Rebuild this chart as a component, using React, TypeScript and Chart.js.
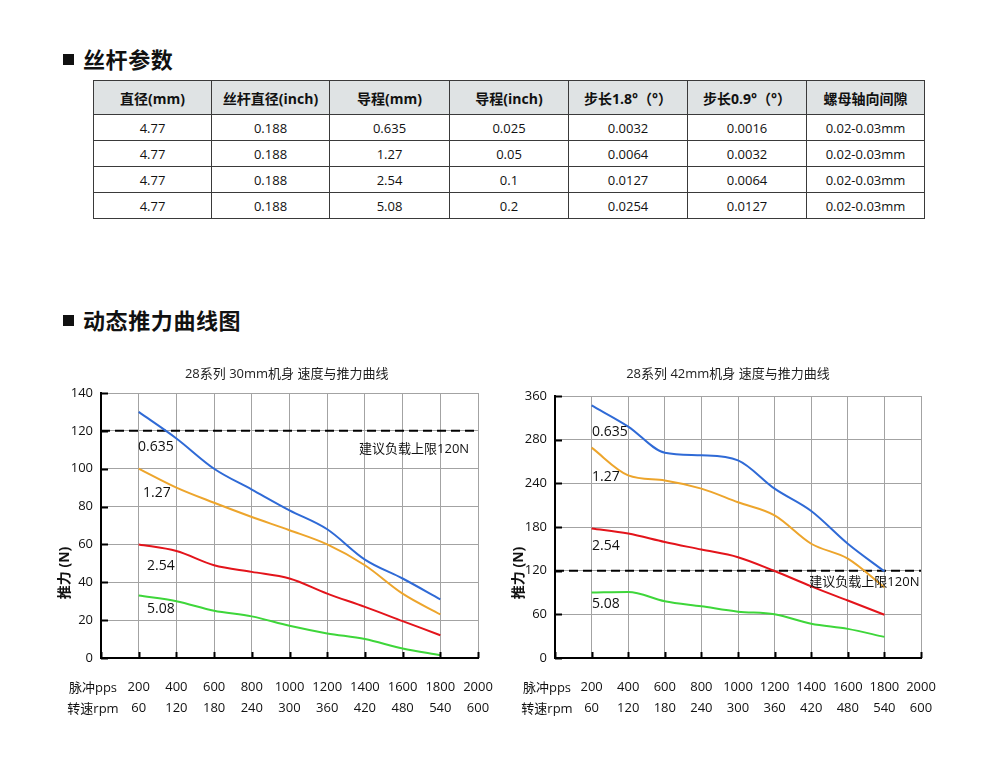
import React, { useEffect, useRef } from 'react';
import { Chart, registerables } from 'chart.js';
Chart.register(...registerables);

const FONT = '"Open Sans", "Noto Sans CJK SC", sans-serif';

// ---------- table data ----------
const tableHeaders = ['直径(mm)', '丝杆直径(inch)', '导程(mm)', '导程(inch)', '步长1.8°（°）', '步长0.9°（°）', '螺母轴向间隙'];
const diameterMm = ['4.77', '4.77', '4.77', '4.77'];
const diameterInch = ['0.188', '0.188', '0.188', '0.188'];
const leadMm = ['0.635', '1.27', '2.54', '5.08'];
const leadInch = ['0.025', '0.05', '0.1', '0.2'];
const step18 = ['0.0032', '0.0064', '0.0127', '0.0254'];
const step09 = ['0.0016', '0.0032', '0.0064', '0.0127'];
const backlash = ['0.02-0.03mm', '0.02-0.03mm', '0.02-0.03mm', '0.02-0.03mm'];

// ---------- chart data ----------
const ppsValues = [200, 400, 600, 800, 1000, 1200, 1400, 1600, 1800];
const ppsTickLabels = ['200', '400', '600', '800', '1000', '1200', '1400', '1600', '1800', '2000'];
const rpmTickLabels = ['60', '120', '180', '240', '300', '360', '420', '480', '540', '600'];
const seriesNames = ['0.635', '1.27', '2.54', '5.08'];
const seriesColors = ['#2f6ad6', '#eda52c', '#e3141b', '#3ed63a'];

const left0635 = [130, 116, 100, 89, 78, 68, 52, 42, 31];
const left127 = [100, 90, 82, 74.5, 67.5, 60, 49, 34, 23];
const left254 = [60, 56.5, 49, 45.5, 42, 34, 27, 19.5, 12];
const left508 = [33, 30, 25, 22, 17, 13, 10, 5, 1.5];

const right0635 = [347, 318, 282, 278.5, 271.6, 232.7, 202, 157, 119];
const right127 = [289, 251, 244, 232.7, 214, 196, 157, 136.5, 97];
const right254 = [178, 171, 159.4, 149, 138.5, 119.5, 98.5, 79, 59.5];
const right508 = [90, 90.7, 78, 71, 63.7, 60, 47, 40, 29];

const leftYTickLabels = ['0', '20', '40', '60', '80', '100', '120', '140'];
const rightYTickLabels = ['0', '60', '120', '180', '240', '280', '360'];

const loadLimit = 120;

type ChartCfg = {
  title: string;
  titleX: number;
  yMax: number;
  yStep: number;
  yTickLabels: string[];
  series: number[][];
  labelAnchors: { text: string; x: number; y: number; size: number }[];
  padding: { left: number; right: number; top: number; bottom: number };
  yWidth: number;
  xHeight: number;
  canvas: { left: number; top: number; width: number; height: number };
};

const leftCfg: ChartCfg = {
  title: '28系列 30mm机身 速度与推力曲线',
  titleX: 985,
  yMax: 140,
  yStep: 20,
  yTickLabels: leftYTickLabels,
  series: [left0635, left127, left254, left508],
  labelAnchors: [
    { text: '0.635', x: 196, y: 111.5, size: 14 },
    { text: '1.27', x: 223, y: 87, size: 14 },
    { text: '2.54', x: 244, y: 48.7, size: 14 },
    { text: '5.08', x: 244, y: 25.7, size: 14 },
    { text: '建议负载上限120N', x: 1369, y: 110.3, size: 13 },
  ],
  padding: { left: 0, right: 34, top: 38, bottom: 0 },
  yWidth: 61,
  xHeight: 67,
  canvas: { left: 40, top: 355, width: 472, height: 370 },
};

const rightCfg: ChartCfg = {
  title: '28系列 42mm机身 速度与推力曲线',
  titleX: 945,
  yMax: 360,
  yStep: 60,
  yTickLabels: rightYTickLabels,
  series: [right0635, right127, right254, right508],
  labelAnchors: [
    { text: '0.635', x: 202, y: 310.5, size: 14 },
    { text: '1.27', x: 202, y: 248, size: 14 },
    { text: '2.54', x: 202, y: 153.5, size: 14 },
    { text: '5.08', x: 202, y: 74, size: 14 },
    { text: '建议负载上限120N', x: 1390, y: 104.4, size: 13 },
  ],
  padding: { left: 0, right: 34, top: 41, bottom: 0 },
  yWidth: 60,
  xHeight: 67,
  canvas: { left: 495, top: 355, width: 460, height: 370 },
};

const overlayPlugin = {
  id: 'overlay',
  afterDraw(chart: any, _args: any, opts: any) {
    const { ctx, chartArea } = chart;
    const xs = chart.scales.x;
    const ys = chart.scales.y;
    ctx.save();
    // inner tick marks
    ctx.strokeStyle = '#000';
    ctx.lineWidth = 2;
    xs.ticks.forEach((t: any) => {
      const px = Math.round(xs.getPixelForValue(t.value)) + 0.5;
      ctx.beginPath();
      ctx.moveTo(px, chartArea.bottom);
      ctx.lineTo(px, chartArea.bottom - 6);
      ctx.stroke();
    });
    ys.ticks.forEach((t: any) => {
      const py = Math.round(ys.getPixelForValue(t.value)) + 0.5;
      ctx.beginPath();
      ctx.moveTo(chartArea.left, py);
      ctx.lineTo(chartArea.left + 7, py);
      ctx.stroke();
    });
    // title
    ctx.fillStyle = '#222';
    ctx.font = `13px ${FONT}`;
    ctx.textAlign = 'center';
    ctx.textBaseline = 'middle';
    ctx.fillText(opts.title, xs.getPixelForValue(opts.titleX), 19);
    // series labels
    ctx.fillStyle = '#111';
    ctx.textAlign = 'left';
    opts.labelAnchors.forEach((a: any) => {
      ctx.font = `${a.size}px ${FONT}`;
      ctx.fillText(a.text, xs.getPixelForValue(a.x), ys.getPixelForValue(a.y));
    });
    // x row headers
    ctx.font = `13px ${FONT}`;
    ctx.textAlign = 'center';
    ctx.fillText('脉冲pps', chartArea.left - 8, chartArea.bottom + 30);
    ctx.fillText('转速rpm', chartArea.left - 8, chartArea.bottom + 51);
    // y title
    ctx.translate(chartArea.left - 36, chartArea.bottom - 85);
    ctx.rotate(-Math.PI / 2);
    ctx.font = `bold 14px ${FONT}`;
    ctx.fillText('推力 (N)', 0, 0);
    ctx.restore();
  },
};

function ForceChart({ cfg }: { cfg: ChartCfg }) {
  const ref = useRef<HTMLCanvasElement>(null);
  useEffect(() => {
    if (!ref.current) return;
    const datasets: any[] = cfg.series.map((vals, i) => ({
      label: seriesNames[i],
      data: ppsValues.map((p, j) => ({ x: p, y: vals[j] })),
      borderColor: seriesColors[i],
      borderWidth: 2,
      pointRadius: 0,
      cubicInterpolationMode: 'monotone',
      fill: false,
    }));
    datasets.unshift({
      label: 'limit',
      data: [
        { x: 0, y: loadLimit },
        { x: 2000, y: loadLimit },
      ],
      borderColor: '#000',
      borderWidth: 2,
      borderDash: [9, 5],
      pointRadius: 0,
      fill: false,
      order: 10,
    });
    const chart = new Chart(ref.current, {
      type: 'line',
      data: { datasets },
      options: {
        animation: false,
        responsive: false,
        maintainAspectRatio: false,
        layout: { padding: cfg.padding },
        plugins: {
          legend: { display: false },
          tooltip: { enabled: false },
          title: { display: false },
          overlay: { title: cfg.title, titleX: cfg.titleX, labelAnchors: cfg.labelAnchors },
        } as any,
        scales: {
          x: {
            type: 'linear',
            min: 0,
            max: 2000,
            afterFit: (s: any) => {
              s.height = cfg.xHeight;
            },
            ticks: {
              stepSize: 200,
              autoSkip: false,
              maxRotation: 0,
              padding: 19,
              color: '#111',
              font: { family: FONT, size: 13, lineHeight: 1.6 },
              callback: (v: any) => {
                const i = Math.round(v / 200) - 1;
                if (i < 0) return '';
                return [ppsTickLabels[i], rpmTickLabels[i]];
              },
            },
            grid: { color: '#a3a3a3', lineWidth: 1, drawTicks: false },
            border: { color: '#000', width: 2 },
          },
          y: {
            type: 'linear',
            min: 0,
            max: cfg.yMax,
            afterFit: (s: any) => {
              s.width = cfg.yWidth;
            },
            ticks: {
              stepSize: cfg.yStep,
              autoSkip: false,
              padding: 8,
              color: '#111',
              font: { family: FONT, size: 13 },
              callback: (v: any) => cfg.yTickLabels[Math.round(v / cfg.yStep)] ?? '',
            },
            grid: { color: '#a3a3a3', lineWidth: 1, drawTicks: false },
            border: { color: '#000', width: 2 },
          },
        },
      },
      plugins: [overlayPlugin],
    });
    return () => chart.destroy();
  }, [cfg]);
  const c = cfg.canvas;
  return (
    <canvas
      ref={ref}
      width={c.width}
      height={c.height}
      style={{ position: 'absolute', left: c.left, top: c.top, width: c.width, height: c.height }}
    />
  );
}

function Heading({ text, top }: { text: string; top: number }) {
  return (
    <div style={{ position: 'absolute', left: 63, top, height: 24, display: 'flex', alignItems: 'center' }}>
      <div style={{ width: 11, height: 11, background: '#111', marginRight: 9 }} />
      <div style={{ fontFamily: FONT, fontWeight: 700, fontSize: 22, letterSpacing: 0.6, color: '#111', lineHeight: '24px' }}>
        {text}
      </div>
    </div>
  );
}

export default function App() {
  useEffect(() => {
    document.body.style.margin = '0';
  }, []);
  const colWidths = [118, 118, 120, 119, 119, 119, 118];
  const rows = diameterMm.map((_, i) => [diameterMm[i], diameterInch[i], leadMm[i], leadInch[i], step18[i], step09[i], backlash[i]]);
  const cellBase: React.CSSProperties = {
    border: '1px solid #3a3a3a',
    textAlign: 'center',
    verticalAlign: 'middle',
    padding: 0,
    fontFamily: FONT,
    fontSize: 13,
    color: '#111',
  };
  return (
    <div style={{ position: 'absolute', left: 0, top: 0, width: 1000, height: 778, background: '#fff', overflow: 'hidden' }}>
      <Heading text="丝杆参数" top={47} />
      <table
        style={{
          position: 'absolute',
          left: 93,
          top: 80,
          borderCollapse: 'collapse',
          tableLayout: 'fixed',
          width: 832,
        }}
      >
        <colgroup>
          {colWidths.map((w, i) => (
            <col key={i} style={{ width: w }} />
          ))}
        </colgroup>
        <thead>
          <tr style={{ height: 34 }}>
            {tableHeaders.map((h, i) => (
              <th key={i} style={{ ...cellBase, background: '#dfe3e4', fontWeight: 700, fontSize: 14 }}>
                {h}
              </th>
            ))}
          </tr>
        </thead>
        <tbody>
          {rows.map((r, i) => (
            <tr key={i} style={{ height: 26 }}>
              {r.map((v, j) => (
                <td key={j} style={cellBase}>
                  {v}
                </td>
              ))}
            </tr>
          ))}
        </tbody>
      </table>
      <Heading text="动态推力曲线图" top={308} />
      <ForceChart cfg={leftCfg} />
      <ForceChart cfg={rightCfg} />
    </div>
  );
}
